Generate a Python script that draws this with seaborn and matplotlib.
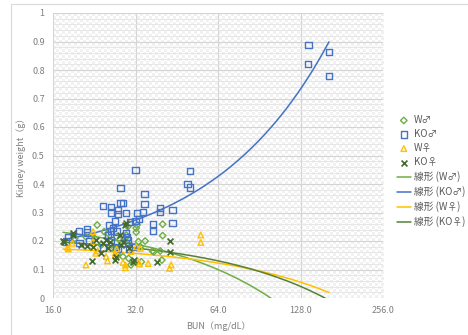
import numpy as np
import pandas as pd
import seaborn as sns
import matplotlib.pyplot as plt
from matplotlib.patches import Rectangle

# scatter data: BUN (mg/dL) and kidney weight (g)
wm_bun = [23.2, 40.2, 40.2, 32.2, 32.2, 32.4, 24.6, 25.4, 34.7, 32.8, 33.3, 36.9, 37.3, 39.4,
          30.8, 31.2, 33.6, 39.9, 28.8, 21.1, 22.7, 27.3, 28.0, 24.0, 26.1, 19.2, 29.3, 29.6,
          27.0, 27.6, 30.2, 30.0]
wm_kw = [0.256, 0.259, 0.219, 0.245, 0.231, 0.256, 0.233, 0.227, 0.200, 0.198, 0.180, 0.165, 0.162, 0.165,
         0.116, 0.127, 0.127, 0.133, 0.145, 0.215, 0.209, 0.215, 0.204, 0.186, 0.186, 0.209, 0.209, 0.221,
         0.168, 0.151, 0.139, 0.250]

kom_bun = [32.0, 50.7, 49.5, 50.7, 28.2, 34.5, 24.4, 26.0, 28.2, 28.8, 27.6, 27.6, 26.0, 29.6, 34.5,
           32.4, 34.1, 39.4, 39.4, 43.7, 43.7, 37.1, 37.1, 32.0, 33.0, 30.5, 27.0, 25.6, 26.5, 26.1,
           27.3, 29.6, 29.8, 30.0, 29.4, 19.9, 21.3, 21.3, 18.2, 20.0, 21.6, 25.4, 26.1, 27.1, 27.6,
           31.2, 30.2, 24.4, 17.9, 136.8, 136.0, 162.6, 162.6]
kom_kw = [0.449, 0.446, 0.400, 0.388, 0.385, 0.364, 0.323, 0.320, 0.334, 0.332, 0.309, 0.294, 0.300, 0.297, 0.329,
          0.297, 0.303, 0.315, 0.303, 0.309, 0.264, 0.259, 0.235, 0.271, 0.276, 0.268, 0.270, 0.256, 0.245, 0.235,
          0.233, 0.227, 0.215, 0.204, 0.192, 0.235, 0.241, 0.230, 0.215, 0.192, 0.198, 0.221, 0.204, 0.180, 0.174,
          0.180, 0.174, 0.177, 0.198, 0.888, 0.820, 0.862, 0.780]

wf_bun = [55.4, 55.4, 22.4, 21.1, 18.2, 18.1, 18.8, 22.9, 23.3, 25.0, 25.3, 27.3, 28.8, 29.4, 29.4,
          35.6, 32.2, 33.3, 42.6, 43.2, 22.4, 27.0, 30.8, 32.8, 33.1, 27.0]
wf_kw = [0.221, 0.195, 0.233, 0.116, 0.172, 0.177, 0.192, 0.157, 0.165, 0.145, 0.130, 0.172, 0.125, 0.116, 0.106,
         0.121, 0.180, 0.174, 0.104, 0.116, 0.198, 0.157, 0.163, 0.127, 0.119, 0.151]

kof_bun = [42.9, 42.9, 38.4, 22.2, 18.9, 18.9, 17.4, 17.6, 20.3, 21.3, 24.0, 25.4, 27.0, 27.2, 29.6,
           29.3, 25.0, 25.9, 28.4, 28.8, 31.6, 31.4, 28.0, 23.0, 22.4, 24.4, 30.2]
kof_kw = [0.200, 0.162, 0.125, 0.130, 0.227, 0.221, 0.200, 0.198, 0.186, 0.184, 0.157, 0.174, 0.133, 0.145, 0.262,
          0.256, 0.204, 0.198, 0.186, 0.198, 0.133, 0.125, 0.221, 0.204, 0.180, 0.192, 0.174]

groups = ['W♂', 'KO♂', 'W♀', 'KO♀']
# linear trend lines (y = a + b*x)
trend_a = [0.279, 0.120, 0.190, 0.220]
trend_b = [-0.0028, 0.00479, -0.00105, -0.0014]

x_ticks = [16, 32, 64, 128, 256]
x_labels = ['16.0', '32.0', '64.0', '128.0', '256.0']
y_ticks = [0, 0.1, 0.2, 0.3, 0.4, 0.5, 0.6, 0.7, 0.8, 0.9, 1]
y_labels = ['0', '0.1', '0.2', '0.3', '0.4', '0.5', '0.6', '0.7', '0.8', '0.9', '1']

colors = ['#70ad47', '#4472c4', '#ffc000', '#44692c']
markers = ['D', 's', '^', 'x']
sizes = [11, 20, 16, 18]

df = pd.concat([
    pd.DataFrame({'BUN': b, 'KW': k, 'group': g})
    for b, k, g in zip([wm_bun, kom_bun, wf_bun, kof_bun], [wm_kw, kom_kw, wf_kw, kof_kw], groups)
], ignore_index=True)

sns.set_style('white')
plt.rcParams['font.family'] = ['Noto Sans CJK JP', 'DejaVu Sans']

fig = plt.figure(figsize=(4.68, 3.35), dpi=100)
ax = fig.add_axes([53 / 468, 1 - 298 / 335, 330 / 468, 285 / 335])

# outer chart border
fig.patches.append(Rectangle((11 / 468, -0.05), 1.0, 1.05 - 4 / 335, transform=fig.transFigure,
                             fill=False, edgecolor='#d9d9d9', linewidth=0.8))

# checkerboard pattern fill of the plot area
ny, nx = 95, 110
checker = (np.add.outer(np.arange(ny), np.arange(nx)) % 2).astype(float)
ax.imshow(checker, cmap=plt.matplotlib.colors.ListedColormap(['#ffffff', '#f1f1f1']),
          extent=(0, 1, 0, 1), transform=ax.transAxes, aspect='auto', interpolation='nearest', zorder=0)

for g, c, m, s in zip(groups, colors, markers, sizes):
    sub = df[df['group'] == g]
    if m == 'x':
        sns.scatterplot(data=sub, x='BUN', y='KW', marker=m, s=s, color=c, linewidth=1.2,
                        ax=ax, label=g, zorder=3)
    else:
        sns.scatterplot(data=sub, x='BUN', y='KW', marker=m, s=s, facecolor='none', edgecolor=c,
                        linewidth=1.0, ax=ax, label=g, zorder=3)

xline = np.geomspace(df['BUN'].min(), df['BUN'].max(), 200)
for g, c, a, b in zip(groups, colors, trend_a, trend_b):
    lc = '#548235' if g == 'KO♀' else c
    sns.lineplot(x=xline, y=a + b * xline, color=lc, linewidth=1.1, ax=ax, label=f'線形 ({g})', zorder=2)

ax.set_xscale('log', base=2)
ax.set_xlim(16, 256)
ax.set_ylim(0, 1)
ax.set_xticks(x_ticks)
ax.set_xticklabels(x_labels)
ax.set_yticks(y_ticks)
ax.set_yticklabels(y_labels)
ax.set_yticks(np.arange(0, 1.001, 0.02), minor=True)
ax.xaxis.set_minor_locator(plt.NullLocator())
ax.grid(which='major', color='#d4d4d4', linewidth=0.8)
ax.grid(which='minor', axis='y', color='#e4e4e4', linewidth=0.6)
ax.set_axisbelow(True)
for sp in ax.spines.values():
    sp.set_visible(False)
ax.tick_params(which='both', length=0, labelsize=6.5, labelcolor='#7f7f7f', pad=6)
ax.set_xlabel('BUN（mg/dL）', fontsize=6.5, color='#7f7f7f', labelpad=4)
ax.set_ylabel('Kidney weight（g）', fontsize=6.5, color='#7f7f7f', labelpad=4)

handles, labels = ax.get_legend_handles_labels()
ax.get_legend().remove()
fig.legend(handles, labels, loc='upper left', bbox_to_anchor=(397 / 468, 1 - 115 / 335),
           frameon=False, fontsize=7, labelcolor='#595959', handlelength=1.4, handletextpad=0.35,
           labelspacing=0.42, borderaxespad=0, borderpad=0)

fig.savefig('out.png', dpi=100)
